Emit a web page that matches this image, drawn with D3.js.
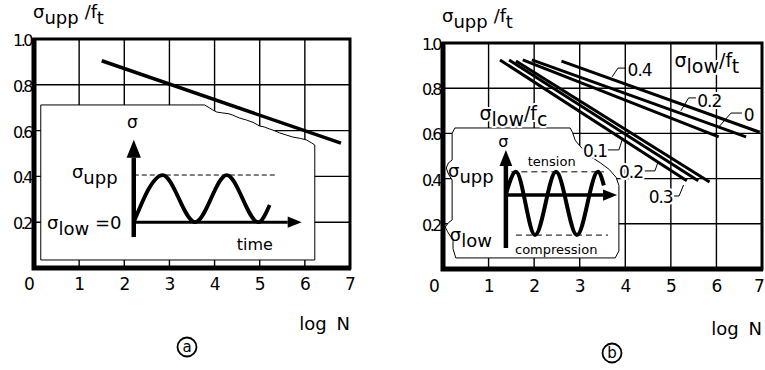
<!DOCTYPE html>
<html>
<head>
<meta charset="utf-8">
<script src="https://cdn.jsdelivr.net/npm/d3@7"></script>
<style>
  body { margin: 0; background: #fff; }
  svg { display: block; font-family: "DejaVu Sans", sans-serif; }
</style>
</head>
<body>
<svg id="chart" width="765" height="370"></svg>
<script>
// Axes shared by both panels
const xTicks = [0, 1, 2, 3, 4, 5, 6, 7];
const yTicks = [0.2, 0.4, 0.6, 0.8, 1.0];
const yTickLabels = ["0.2", "0.4", "0.6", "0.8", "1.0"];

// (a) sigma_low = 0 : one S-N line
const lineA = [[1.5, 0.905], [6.8, 0.545]];

// inset outline of (a), jagged torn edge on the right
const insetA = [
    [0.15, 0.712], [3.78, 0.712], [3.89, 0.699], [3.96, 0.69], [4.05, 0.681],
    [4.18, 0.677], [4.3, 0.674], [4.4, 0.668], [4.55, 0.655], [4.71, 0.646],
    [4.85, 0.636], [5.0, 0.62], [5.1, 0.616], [5.22, 0.607], [5.32, 0.6],
    [5.44, 0.59], [5.6, 0.58], [5.73, 0.572], [5.9, 0.566], [6.04, 0.559],
    [6.15, 0.546], [6.22, 0.537], [6.22, 0.035], [0.15, 0.035]
];
// schematic load signal in (a): peaks at sigma_upp, troughs at 0
const waveA = [[2.21, 0.2], [2.85, 0.406], [3.57, 0.2], [4.27, 0.406], [4.97, 0.2], [5.22, 0.275]];

// (b) lines for sigma_low / f_t
const ftLabels = ["0.4", "0.2", "0"];
const ftX0 = [2.6, 1.95, 1.75];
const ftY0 = [0.92, 0.925, 0.925];
const ftX1 = [6.95, 6.65, 6.05];
const ftY1 = [0.605, 0.585, 0.585];

// (b) lines for sigma_low / f_c
const fcLabels = ["0.1", "0.2", "0.3"];
const fcX0 = [1.25, 1.45, 1.6];
const fcY0 = [0.925, 0.925, 0.92];
const fcX1 = [5.35, 5.6, 5.85];
const fcY1 = [0.39, 0.39, 0.385];

// label anchors and leader polylines in (b)
const ftLabelPos = [[4.05, 0.852], [5.58, 0.717], [6.6, 0.655]];
const ftLeaders = [
    [[4.01, 0.889], [3.84, 0.889], [3.71, 0.85]],
    [[5.55, 0.757], [5.39, 0.757], [5.22, 0.70]],
    [[6.56, 0.69], [6.32, 0.69], [6.05, 0.628]]
];
const fcLabelPos = [[3.6, 0.496], [4.39, 0.403], [5.04, 0.292]];
const fcLeaders = [
    [[3.62, 0.527], [3.86, 0.527], [3.93, 0.571]],
    [[4.43, 0.434], [4.65, 0.434], [4.71, 0.469]],
    [[5.07, 0.323], [5.18, 0.323], [5.28, 0.372]]
];

// inset outline of (b)
const insetB = [
    [0.2, 0.6], [0.26, 0.624], [2.79, 0.624], [2.84, 0.605], [2.9, 0.57],
    [3.0, 0.545], [3.22, 0.5], [3.45, 0.47], [3.65, 0.44], [3.8, 0.405],
    [3.86, 0.37], [3.86, 0.08], [3.78, 0.049], [0.28, 0.049], [0.22, 0.09],
    [0.22, 0.128], [0.1, 0.165], [0.05, 0.186], [0.12, 0.205], [0.2, 0.217],
    [0.2, 0.394], [0.12, 0.42], [0.07, 0.447], [0.12, 0.47], [0.2, 0.482]
];
// schematic alternating load in (b)
const waveB = [[1.38, 0.33], [1.6, 0.43], [2.02, 0.15], [2.48, 0.43], [2.94, 0.15], [3.4, 0.43], [3.53, 0.37]];

const svg = d3.select("#chart");

// Draw the framed grid + tick labels of one panel
function drawPanel(xr, yr, opts) {
    const g = svg.append("g");
    const x = d3.scaleLinear().domain([0, 7]).range(xr);
    const y = d3.scaleLinear().domain([0, 1]).range(yr);
    const line = d3.line().x((d) => x(d[0])).y((d) => y(d[1]));

    const grid = g.append("g").attr("stroke", "#000").attr("stroke-width", 1.4);
    grid.selectAll(".vx")
        .data(xTicks.slice(1, -1))
        .join("line")
        .attr("x1", (d) => x(d)).attr("x2", (d) => x(d))
        .attr("y1", y(0)).attr("y2", y(1));
    grid.selectAll(".hy")
        .data(yTicks.slice(0, -1))
        .join("line")
        .attr("x1", x(0)).attr("x2", x(7))
        .attr("y1", (d) => y(d)).attr("y2", (d) => y(d));

    const yAxis = g.append("g")
        .attr("transform", `translate(${x(0)},0)`)
        .call(d3.axisLeft(y).tickValues(yTicks)
            .tickFormat((d, i) => yTickLabels[i]).tickSize(0).tickPadding(3));
    yAxis.select(".domain").remove();
    yAxis.selectAll("text")
        .attr("font-family", "DejaVu Sans")
        .attr("font-size", 16)
        .attr("letter-spacing", -2.5)
        .attr("dy", "0.4em");

    const xAxis = g.append("g")
        .attr("transform", `translate(0,${y(0)})`)
        .call(d3.axisBottom(x).tickValues(xTicks).tickFormat(d3.format("d"))
            .tickSize(0).tickPadding(opts.xPad));
    xAxis.select(".domain").remove();
    xAxis.selectAll("text")
        .attr("font-family", "DejaVu Sans")
        .attr("font-size", 17)
        .attr("dx", (d) => (d === 0 ? -opts.zeroShift : d === 7 ? -opts.sevenShift : 0));

    // title  sigma_upp / f_t
    const t = g.append("text")
        .attr("x", x(0) - 1)
        .attr("y", y(1) - 21)
        .attr("font-size", 18);
    t.append("tspan").text("σ");
    t.append("tspan").attr("dy", 6).text("upp");
    t.append("tspan").attr("dy", -6).attr("dx", 6).text("/f");
    t.append("tspan").attr("dy", 6).text("t");

    // log N
    g.append("text")
        .attr("x", x(7))
        .attr("y", y(0) + opts.logY)
        .attr("text-anchor", "end")
        .attr("font-size", 18)
        .attr("word-spacing", 4)
        .text("log N");

    // circled panel letter
    g.append("circle")
        .attr("cx", opts.cx).attr("cy", opts.cy).attr("r", 9.5)
        .attr("fill", "none").attr("stroke", "#000").attr("stroke-width", 1.8);
    g.append("text")
        .attr("x", opts.cx).attr("y", opts.cy + 5)
        .attr("text-anchor", "middle")
        .attr("font-size", 15)
        .text(opts.letter);

    return { g, x, y, line };
}

function drawFrame(p) {
    const { g, x, y } = p;
    g.append("rect")
        .attr("x", x(0)).attr("y", y(1))
        .attr("width", x(7) - x(0)).attr("height", y(0) - y(1))
        .attr("fill", "none").attr("stroke", "#000").attr("stroke-width", 3);
    g.append("path")
        .attr("d", `M${x(0)},${y(1) - 1}V${y(0)}H${x(7) + 1}`)
        .attr("fill", "none").attr("stroke", "#000").attr("stroke-width", 5);
}

function arrow(g, x1, y1, x2, y2, w, head) {
    const ang = Math.atan2(y2 - y1, x2 - x1);
    const bx = x2 - head * Math.cos(ang), by = y2 - head * Math.sin(ang);
    g.append("line")
        .attr("x1", x1).attr("y1", y1).attr("x2", bx).attr("y2", by)
        .attr("stroke", "#000").attr("stroke-width", w);
    const hw = head * 0.4;
    const px = -Math.sin(ang), py = Math.cos(ang);
    g.append("path")
        .attr("d", `M${x2},${y2}L${bx + px * hw},${by + py * hw}L${bx - px * hw},${by - py * hw}Z`)
        .attr("fill", "#000");
}

// sigma with subscript
function sigmaText(g, px, py, sub, size, extra) {
    const t = g.append("text").attr("x", px).attr("y", py).attr("font-size", size);
    t.append("tspan").text("σ");
    t.append("tspan").attr("dy", size * 0.32).text(sub);
    if (extra) t.append("tspan").attr("dy", -size * 0.32).text(extra.main);
    if (extra && extra.sub) t.append("tspan").attr("dy", size * 0.32).text(extra.sub);
    return t;
}

// ---------------- Panel (a) ----------------
const pa = drawPanel([34, 350], [268, 39], {
    xPad: 10, logY: 62, cx: 187, cy: 347, letter: "a", zeroShift: 5, sevenShift: 0
});
{
    const { g, x, y, line } = pa;
    g.append("path")
        .attr("d", line(insetA) + "Z")
        .attr("fill", "#fff").attr("stroke", "#000").attr("stroke-width", 1);

    g.append("path")
        .attr("d", line(lineA))
        .attr("fill", "none").attr("stroke", "#000").attr("stroke-width", 3.5);

    // inner diagram
    g.append("line")
        .attr("x1", x(2.21)).attr("x2", x(5.4))
        .attr("y1", y(0.406)).attr("y2", y(0.406))
        .attr("stroke", "#000").attr("stroke-width", 1).attr("stroke-dasharray", "5,3");
    arrow(g, x(2.21), y(0.2), x(5.93), y(0.2), 3, 14);
    arrow(g, x(2.21), y(0.135), x(2.21), y(0.56), 4.5, 18);
    g.append("path")
        .attr("d", line.curve(d3.curveMonotoneX)(waveA))
        .attr("fill", "none").attr("stroke", "#000").attr("stroke-width", 3.8);
    line.curve(d3.curveLinear);

    g.append("text").attr("x", x(2.06)).attr("y", y(0.61)).attr("font-size", 17).text("σ");
    sigmaText(g, x(0.84), y(0.392), "upp", 18);
    sigmaText(g, x(0.29), y(0.17), "low", 18, { main: " =0" });
    g.append("text").attr("x", x(4.49)).attr("y", y(0.079)).attr("font-size", 16).text("time");

    drawFrame(pa);
}

// ---------------- Panel (b) ----------------
const pb = drawPanel([443, 762], [269, 43], {
    xPad: 11, logY: 66, cx: 612, cy: 353, letter: "b", zeroShift: 9, sevenShift: 3
});
{
    const { g, x, y, line } = pb;
    g.append("path")
        .attr("d", line(insetB) + "Z")
        .attr("fill", "#fff").attr("stroke", "#000").attr("stroke-width", 1);

    const halo = (sel) => sel.attr("paint-order", "stroke").attr("stroke", "#fff")
        .attr("stroke-width", 4).attr("stroke-linejoin", "round");

    // group labels
    halo(sigmaText(g, x(5.08), y(0.892), "low", 19, { main: "/f", sub: "t" }));
    halo(sigmaText(g, x(0.8), y(0.66), "low", 19, { main: "/f", sub: "c" }));

    // S-N lines
    const lw = 3;
    ftLabels.forEach((lab, i) => {
        g.append("path")
            .attr("d", line([[ftX0[i], ftY0[i]], [ftX1[i], ftY1[i]]]))
            .attr("stroke", "#000").attr("stroke-width", lw);
    });
    fcLabels.forEach((lab, i) => {
        g.append("path")
            .attr("d", line([[fcX0[i], fcY0[i]], [fcX1[i], fcY1[i]]]))
            .attr("stroke", "#000").attr("stroke-width", lw);
    });

    // labels with leaders
    ftLabels.forEach((lab, i) => {
        halo(g.append("text")
            .attr("x", x(ftLabelPos[i][0])).attr("y", y(ftLabelPos[i][1]))
            .attr("font-size", 17).attr("letter-spacing", -1).text(lab));
        g.append("path").attr("d", line(ftLeaders[i]))
            .attr("fill", "none").attr("stroke", "#000").attr("stroke-width", 1);
    });
    fcLabels.forEach((lab, i) => {
        halo(g.append("text")
            .attr("x", x(fcLabelPos[i][0])).attr("y", y(fcLabelPos[i][1]))
            .attr("text-anchor", "end")
            .attr("font-size", 17).attr("letter-spacing", -1).text(lab));
        g.append("path").attr("d", line(fcLeaders[i]))
            .attr("fill", "none").attr("stroke", "#000").attr("stroke-width", 1);
    });

    // inner diagram
    g.append("line")
        .attr("x1", x(1.5)).attr("x2", x(3.53))
        .attr("y1", y(0.43)).attr("y2", y(0.43))
        .attr("stroke", "#000").attr("stroke-width", 1).attr("stroke-dasharray", "6,4");
    g.append("line")
        .attr("x1", x(1.6)).attr("x2", x(3.62))
        .attr("y1", y(0.15)).attr("y2", y(0.15))
        .attr("stroke", "#000").attr("stroke-width", 1).attr("stroke-dasharray", "6,4");
    arrow(g, x(1.38), y(0.327), x(3.82), y(0.327), 3.5, 14);
    arrow(g, x(1.38), y(0.093), x(1.38), y(0.527), 4.5, 16);
    g.append("path")
        .attr("d", line.curve(d3.curveMonotoneX)(waveB))
        .attr("fill", "none").attr("stroke", "#000").attr("stroke-width", 4);
    line.curve(d3.curveLinear);

    g.append("text").attr("x", x(1.21)).attr("y", y(0.54)).attr("font-size", 16).text("σ");
    g.append("text").attr("x", x(1.86)).attr("y", y(0.456)).attr("font-size", 13).text("tension");
    sigmaText(g, x(0.11), y(0.405), "upp", 18);
    sigmaText(g, x(0.15), y(0.125), "low", 18);
    g.append("text").attr("x", x(1.58)).attr("y", y(0.066)).attr("font-size", 13).text("compression");

    drawFrame(pb);
}
</script>
</body>
</html>
